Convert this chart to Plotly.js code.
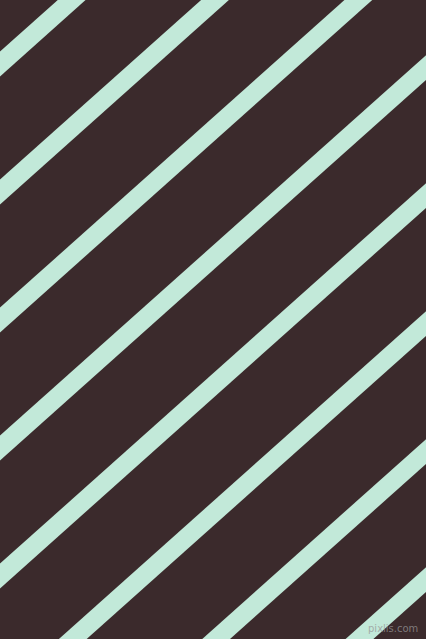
<!DOCTYPE html>
<html>
<head>
<meta charset="utf-8">
<script src="https://cdn.plot.ly/plotly-3.0.1.min.js"></script>
<style>
html, body { margin: 0; padding: 0; background: #3b2a2c; overflow: hidden; }
#chart { width: 426px; height: 639px; }
</style>
</head>
<body>
<div id="chart"></div>
<script>
// where each stripe crosses the left edge (pixels from top)
let leftIntercepts = [64, 192, 320, 448, 576, 704, 832, 960]
// stripes rise to the right, drop per pixel across
let slope = 0.893
// x span used for every stripe (wider than the picture, clipped by the axes)
let stripeX = [-20, 446]

let bg = "#3b2a2c"
let stripeColor = "#c2e9d9"

let traces = leftIntercepts.map(function(c){
  return {
    x: stripeX,
    y: stripeX.map(x => c - slope * x),
    type: "scatter",
    mode: "lines",
    line: {color: stripeColor, width: 18.5},
    hoverinfo: "skip",
    showlegend: false
  }
})

let layout = {
  width: 426,
  height: 639,
  margin: {l: 0, r: 0, t: 0, b: 0, pad: 0},
  paper_bgcolor: bg,
  plot_bgcolor: bg,
  xaxis: {range: [0, 426], visible: false, fixedrange: true},
  yaxis: {range: [639, 0], visible: false, fixedrange: true},
  annotations: [{
    text: "pixlis.com",
    xref: "paper", yref: "paper",
    x: 0.985, y: 0.005,
    xanchor: "right", yanchor: "bottom",
    showarrow: false,
    font: {family: "DejaVu Sans", size: 10, color: "rgba(150,150,150,0.75)"}
  }]
}

Plotly.newPlot("chart", traces, layout, {displayModeBar: false, staticPlot: true})
</script>
</body>
</html>
